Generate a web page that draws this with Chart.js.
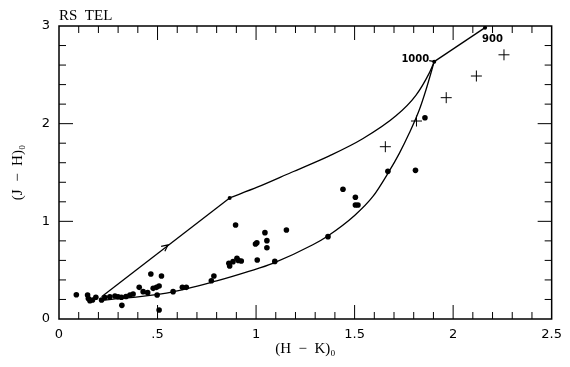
<!DOCTYPE html>
<html>
<head>
<meta charset="utf-8">
<script src="https://cdn.jsdelivr.net/npm/chart.js@4/dist/chart.umd.min.js"></script>
<style>
  html, body { margin: 0; padding: 0; background: #fff; }
  #wrap { width: 570px; height: 367px; }
</style>
</head>
<body>
<div id="wrap"><canvas id="chart" width="570" height="367"></canvas></div>
<script>
// observed stars, (H-K)0 vs (J-H)0
const dotX = [0.088, 0.145, 0.149, 0.157, 0.17, 0.187, 0.216, 0.233, 0.258, 0.284, 0.30, 0.317, 0.34, 0.36, 0.376,
  0.319, 0.407, 0.427, 0.45, 0.466, 0.478, 0.495, 0.508, 0.52, 0.498, 0.508, 0.579, 0.626, 0.646, 0.773, 0.786,
  0.862, 0.866, 0.883, 0.896, 0.903, 0.91, 0.925, 0.997, 1.004, 1.006, 1.045, 1.055, 1.055, 1.095, 1.154,
  1.365, 1.441, 1.504, 1.504, 1.517, 1.669, 1.809, 1.857];
const dotY = [0.249, 0.246, 0.21, 0.187, 0.195, 0.222, 0.195, 0.22, 0.228, 0.235, 0.228, 0.222, 0.23, 0.246, 0.256,
  0.14, 0.324, 0.28, 0.27, 0.46, 0.314, 0.324, 0.338, 0.44, 0.246, 0.092, 0.28, 0.324, 0.324, 0.392, 0.44,
  0.57, 0.543, 0.587, 0.962, 0.621, 0.6, 0.594, 0.768, 0.781, 0.604, 0.884, 0.802, 0.73, 0.59, 0.911,
  0.843, 1.328, 1.246, 1.167, 1.167, 1.512, 1.522, 2.061];

// plus signs
const plusX = [1.656, 1.814, 1.965, 2.118, 2.258];
const plusY = [1.764, 2.027, 2.266, 2.488, 2.705];

// upper track: straight part, curve, straight to 900
const upStraightX = [0.216, 0.866];
const upStraightY = [0.228, 1.240];
const upCurveX = [0.866, 1.009, 1.178, 1.372, 1.541, 1.710, 1.811, 1.878, 1.904];
const upCurveY = [1.240, 1.352, 1.500, 1.670, 1.845, 2.080, 2.290, 2.515, 2.635];
const tailX = [1.904, 2.162];
const tailY = [2.635, 2.983];

// lower track
const lowX = [0.208, 0.545, 0.800, 0.967, 1.085, 1.288, 1.364, 1.500, 1.592, 1.671, 1.727, 1.777, 1.828, 1.862, 1.904];
const lowY = [0.190, 0.265, 0.390, 0.490, 0.570, 0.760, 0.850, 1.060, 1.252, 1.498, 1.696, 1.901, 2.140, 2.345, 2.635];

const vertexX = [0.866, 1.904, 2.162];
const vertexY = [1.240, 2.635, 2.983];

const arrowAt = [0.553, 0.758];

const xTicks = ['0', '.5', '1', '1.5', '2', '2.5'];
const yTicks = ['0', '1', '2', '3'];

const pts = (xs, ys) => xs.map((x, i) => ({ x: x, y: ys[i] }));

const frame = {
    id: 'frame',
    afterDraw(chart) {
        const { ctx, chartArea: a, scales } = chart;
        const sx = scales.x, sy = scales.y;
        ctx.save();
        ctx.strokeStyle = '#000';
        ctx.lineWidth = 1.5;
        ctx.strokeRect(a.left, a.top, a.right - a.left, a.bottom - a.top);
        ctx.lineWidth = 1;
        ctx.beginPath();
        for (let i = 1; i < 25; i++) {
            const v = i / 10;
            const p = sx.getPixelForValue(v);
            const len = (i % 5 === 0) ? 14 : 7;
            ctx.moveTo(p, a.bottom); ctx.lineTo(p, a.bottom - len);
            ctx.moveTo(p, a.top); ctx.lineTo(p, a.top + len);
        }
        for (let i = 1; i < 15; i++) {
            const v = i / 5;
            const p = sy.getPixelForValue(v);
            const len = (i % 5 === 0) ? 14 : 7;
            ctx.moveTo(a.left, p); ctx.lineTo(a.left + len, p);
            ctx.moveTo(a.right, p); ctx.lineTo(a.right - len, p);
        }
        ctx.stroke();

        // arrow head on the upper track
        const ax = sx.getPixelForValue(arrowAt[0]), ay = sy.getPixelForValue(arrowAt[1]);
        const bx = sx.getPixelForValue(upStraightX[0]), by = sy.getPixelForValue(upStraightY[0]);
        const ang = Math.atan2(ay - by, ax - bx);
        ctx.lineWidth = 1.2;
        ctx.beginPath();
        ctx.moveTo(ax - 7 * Math.cos(ang - 0.45), ay - 7 * Math.sin(ang - 0.45));
        ctx.lineTo(ax, ay);
        ctx.lineTo(ax - 7 * Math.cos(ang + 0.45), ay - 7 * Math.sin(ang + 0.45));
        ctx.stroke();

        // labels at track vertices
        const p1x = sx.getPixelForValue(vertexX[1]), p1y = sy.getPixelForValue(vertexY[1]);
        const p2x = sx.getPixelForValue(vertexX[2]), p2y = sy.getPixelForValue(vertexY[2]);
        ctx.fillStyle = '#000';
        ctx.font = 'bold 10px "DejaVu Sans"';
        ctx.textBaseline = 'middle';
        ctx.textAlign = 'right';
        ctx.fillText('1000', p1x - 5, p1y - 2);
        ctx.beginPath();
        ctx.moveTo(p1x - 5, p1y - 1); ctx.lineTo(p1x, p1y);
        ctx.stroke();
        ctx.textAlign = 'left';
        ctx.fillText('900', p2x - 3, p2y + 12);

        // title
        ctx.font = '15px "Liberation Serif"';
        ctx.textAlign = 'left';
        ctx.textBaseline = 'alphabetic';
        ctx.fillText('RS  TEL', a.left, a.top - 6);
        ctx.restore();
    }
};

new Chart(document.getElementById('chart').getContext('2d'), {
    type: 'scatter',
    data: {
        datasets: [
            {
                data: pts(dotX, dotY),
                pointStyle: 'circle',
                pointRadius: 2.8,
                backgroundColor: '#000',
                borderColor: '#000',
                borderWidth: 0
            },
            {
                data: pts(plusX, plusY),
                pointStyle: 'cross',
                pointRadius: 5.5,
                borderColor: '#000',
                borderWidth: 1
            },
            {
                data: pts(upStraightX, upStraightY),
                showLine: true,
                pointRadius: 0,
                borderColor: '#000',
                borderWidth: 1.3
            },
            {
                data: pts(upCurveX, upCurveY),
                showLine: true,
                cubicInterpolationMode: 'monotone',
                pointRadius: 0,
                borderColor: '#000',
                borderWidth: 1.3
            },
            {
                data: pts(tailX, tailY),
                showLine: true,
                pointRadius: 0,
                borderColor: '#000',
                borderWidth: 1.3
            },
            {
                data: pts(lowX, lowY),
                showLine: true,
                cubicInterpolationMode: 'monotone',
                pointRadius: 0,
                borderColor: '#000',
                borderWidth: 1.3
            },
            {
                data: pts(vertexX, vertexY),
                pointRadius: 2,
                backgroundColor: '#000',
                borderWidth: 0
            }
        ]
    },
    options: {
        responsive: false,
        animation: false,
        layout: { padding: { top: 26, right: 17, left: 0, bottom: 0 } },
        plugins: {
            legend: { display: false },
            tooltip: { enabled: false }
        },
        scales: {
            x: {
                type: 'linear',
                min: 0,
                max: 2.5,
                afterFit: s => { s.height = 48; },
                grid: { display: false, drawTicks: false },
                border: { display: false },
                ticks: {
                    stepSize: 0.5,
                    padding: 8,
                    color: '#000',
                    font: { family: 'DejaVu Sans', size: 13 },
                    callback: (v, i) => xTicks[i]
                },
                title: {
                    display: true,
                    text: '(H  \u2212  K)\u2080',
                    color: '#000',
                    font: { family: 'Liberation Serif', size: 15 },
                    padding: { top: 0, bottom: 9 }
                }
            },
            y: {
                type: 'linear',
                min: 0,
                max: 3,
                afterFit: s => { s.width = 59; },
                grid: { display: false, drawTicks: false },
                border: { display: false },
                ticks: {
                    stepSize: 1,
                    padding: 9,
                    color: '#000',
                    font: { family: 'DejaVu Sans', size: 13 },
                    callback: (v, i) => yTicks[i]
                },
                title: {
                    display: true,
                    text: '(J  \u2212  H)\u2080',
                    color: '#000',
                    font: { family: 'Liberation Serif', size: 15 },
                    padding: { top: 9, bottom: 0 }
                }
            }
        }
    },
    plugins: [frame]
});
</script>
</body>
</html>
